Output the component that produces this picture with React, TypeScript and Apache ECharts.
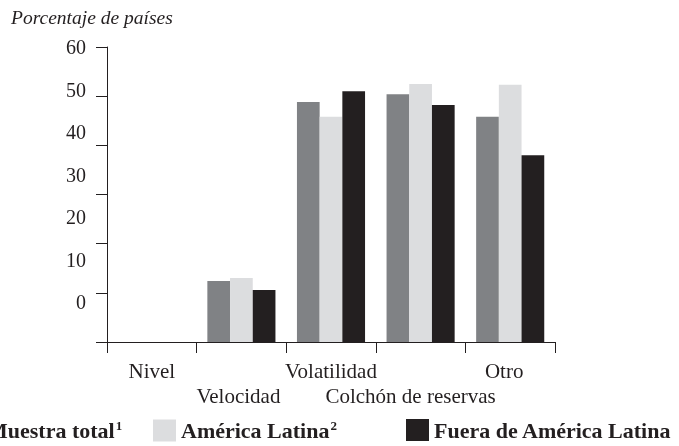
import React, { useEffect, useRef } from "react";
import * as echarts from "echarts";

const categories = ["Nivel", "Velocidad", "Volatilidad", "Colchón de reservas", "Otro"];
const seriesNames = ["Muestra total", "América Latina", "Fuera de América Latina"];
const seriesNotes = ["1", "2", ""];
const muestraTotal = [0, 12.4, 48.8, 50.4, 45.8];
const americaLatina = [0, 13.0, 45.8, 52.5, 52.3];
const fueraAmericaLatina = [0, 10.6, 51.0, 48.2, 38.0];
const yLabelMin = 0;
const yLabelMax = 60;
const yLabelStep = 10;
const titleText = "Porcentaje de países";

const COLORS = ["#808285", "#dcdddf", "#231f20"];
const FONT = "'Liberation Serif', 'Times New Roman', serif";
const INK = "#231f20";
const LABEL_PAD = [0, 6, 0, 20, 12];

export default function App() {
  const ref = useRef<HTMLDivElement>(null);
  useEffect(() => {
    if (!ref.current) return;
    const chart = echarts.init(ref.current, null, { renderer: "svg" });
    const values = [muestraTotal, americaLatina, fueraAmericaLatina];
    const legendLefts = [-41, 153, 406];
    const richCat: Record<string, any> = {};
    LABEL_PAD.forEach((s, i) => {
      richCat["c" + i] = {
        fontFamily: FONT,
        fontSize: 21,
        color: INK,
        lineHeight: 25,
        padding: [0, s, 0, 0],
      };
    });
    chart.setOption({
      animation: false,
      textStyle: { fontFamily: FONT, color: INK },
      title: {
        text: titleText,
        left: 6,
        top: 2,
        padding: [5, 5, 5, 5],
        textStyle: { fontFamily: FONT, fontStyle: "italic", fontWeight: "normal", fontSize: 19.5, color: INK },
      },
      legend: seriesNames.map((n, i) => ({
        data: [n],
        left: legendLefts[i],
        top: 419,
        padding: 0,
        itemWidth: 23,
        itemHeight: 22,
        icon: "rect",
        selectedMode: false,
        formatter: (name: string) => {
          const k = seriesNames.indexOf(name);
          return seriesNotes[k] ? `{t|${name}}{s|${seriesNotes[k]}}` : `{t|${name}}`;
        },
        textStyle: {
          fontFamily: FONT,
          fontWeight: "bold",
          fontSize: 22,
          color: INK,
          rich: {
            t: { fontFamily: FONT, fontWeight: "bold", fontSize: 22, color: INK },
            s: {
              fontFamily: FONT,
              fontWeight: "bold",
              fontSize: 13,
              color: INK,
              verticalAlign: "top",
              padding: [0, 0, 10, 1],
            },
          },
        },
      })),
      grid: [
        { left: 107, right: 124, top: 47, bottom: 104 },
        { left: 107, right: 124, top: 47, height: 255 },
      ],
      xAxis: [
        {
          type: "category",
          gridIndex: 0,
          data: categories,
          axisLine: { show: true, lineStyle: { color: INK, width: 1 } },
          axisTick: { show: true, length: 11, alignWithLabel: false, interval: 0, lineStyle: { color: INK, width: 1 } },
          axisLabel: {
            interval: 0,
            margin: 16,
            fontFamily: FONT,
            fontSize: 21,
            color: INK,
            lineHeight: 25,
            rich: richCat,
            formatter: (v: string, i: number) => (i % 2 ? `\n{c${i}|${v}}` : `{c${i}|${v}}`),
          },
        },
        { type: "category", gridIndex: 1, data: categories, show: false },
      ],
      yAxis: [
        {
          type: "value",
          gridIndex: 0,
          min: 0,
          max: 60,
          interval: 10,
          splitLine: { show: false },
          axisLine: { show: true, lineStyle: { color: INK, width: 1 } },
          axisTick: { show: true, length: 11, lineStyle: { color: INK } },
          axisLabel: { show: false },
        },
        {
          type: "value",
          gridIndex: 1,
          min: yLabelMin,
          max: yLabelMax,
          interval: yLabelStep,
          splitLine: { show: false },
          axisLine: { show: false },
          axisTick: { show: false },
          axisLabel: { margin: 21, fontFamily: FONT, fontSize: 20, color: INK },
        },
      ],
      series: values.map((d, i) => ({
        name: seriesNames[i],
        type: "bar",
        xAxisIndex: 0,
        yAxisIndex: 0,
        data: d,
        barGap: "0%",
        barCategoryGap: "24%",
        itemStyle: { color: COLORS[i] },
      })),
    });
    return () => chart.dispose();
  }, []);
  return <div ref={ref} style={{ position: "fixed", left: 0, top: 0, width: 679, height: 446 }} />;
}
